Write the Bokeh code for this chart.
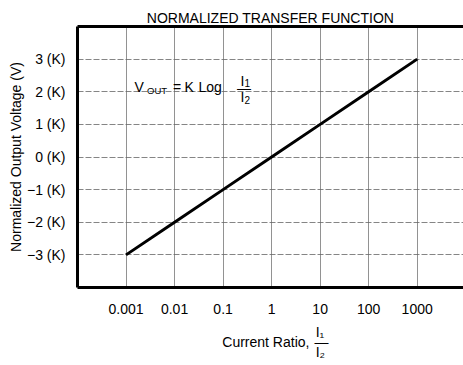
import math
from bokeh.plotting import figure
from bokeh.models import (Range1d, FixedTicker, CustomJSTickFormatter, Label,
                          LinearAxis, Title)
from bokeh.embed import file_html
from bokeh.resources import INLINE

# ---- data ----
current_ratio = [0.001, 0.01, 0.1, 1, 10, 100, 1000]
vout_k = [-3, -2, -1, 0, 1, 2, 3]

x_ticks = [0.001, 0.01, 0.1, 1, 10, 100, 1000]
x_tick_labels = ["0.001", "0.01", "0.1", "1", "10", "100", "1000"]
y_ticks = [-3, -2, -1, 0, 1, 2, 3]
y_tick_labels = ["\u22123 (K)", "\u22122 (K)", "\u22121 (K)", "0 (K)",
                 "1 (K)", "2 (K)", "3 (K)"]

title_text = "NORMALIZED TRANSFER FUNCTION"
y_label_text = "Normalized Output Voltage (V)"
x_label_lines = ["\u2003" * 6 + "\u2002\u200a\u200aI\u2081",
                 "Current Ratio, \u200a\u2014",
                 "\u2003" * 6 + "\u2002\u200a\u200aI\u2082"]

FONT = "Liberation Sans"

# ---- layout ----
W, H = 463, 365
ML, MR, MT, MB = 77, 0, 26, 78
FRAME_LEFT = ML
FRAME_BOTTOM = H - MB
LABEL_DY = -7  # baseline correction for in-frame labels

p = figure(width=W, height=H, x_axis_type="log",
           x_range=Range1d(1e-4, 9000), y_range=Range1d(-4, 4),
           min_border_left=ML, min_border_right=MR,
           min_border_top=MT, min_border_bottom=MB,
           output_backend="svg", toolbar_location=None,
           title=title_text)
p.outline_line_color = None
p.background_fill_color = "white"
p.border_fill_color = "white"

p.title.align = "center"
p.title.text_font = FONT
p.title.text_font_size = "14px"
p.title.text_font_style = "normal"
p.title.text_color = "black"
p.title.text_line_height = 1.0
p.title.standoff = 2

xa = p.below[0]
xa.ticker = FixedTicker(ticks=x_ticks)
xa.formatter = CustomJSTickFormatter(
    args=dict(tvals=x_ticks, tlabels=x_tick_labels),
    code="""
    for (let i = 0; i < tvals.length; i++) {
        if (Math.abs(Math.log10(tvals[i]) - Math.log10(tick)) < 1e-6) return tlabels[i];
    }
    return "";
    """)
ya = p.left[0]
ya.ticker = FixedTicker(ticks=y_ticks)
ya.formatter = CustomJSTickFormatter(
    args=dict(tvals=y_ticks, tlabels=y_tick_labels),
    code="""
    for (let i = 0; i < tvals.length; i++) {
        if (Math.abs(tvals[i] - tick) < 1e-6) return tlabels[i];
    }
    return "";
    """)

for ax in (xa, ya):
    ax.axis_line_width = 3
    ax.axis_line_color = "black"
    ax.major_tick_line_color = None
    ax.minor_tick_line_color = None
    ax.major_tick_out = 0
    ax.major_tick_in = 0
    ax.minor_tick_out = 0
    ax.major_label_text_font = FONT
    ax.major_label_text_font_size = "14px"
    ax.major_label_text_color = "black"
xa.major_label_standoff = 16
ya.major_label_standoff = 12

ya.axis_label = y_label_text
ya.axis_label_text_font = FONT
ya.axis_label_text_font_size = "14px"
ya.axis_label_text_font_style = "normal"
ya.axis_label_text_color = "black"
ya.axis_label_standoff = 0

top_axis = LinearAxis(ticker=FixedTicker(ticks=[]), axis_line_width=3,
                      axis_line_color="black", major_tick_line_color=None,
                      minor_tick_line_color=None, major_label_standoff=0,
                      major_tick_out=0, major_tick_in=0, minor_tick_out=0,
                      axis_label_standoff=0)
p.add_layout(top_axis, "above")

xlab = Title(text="\n".join(x_label_lines), align="right", offset=135,
             standoff=11, text_font=FONT, text_font_size="14px",
             text_font_style="normal", text_color="black",
             text_line_height=0.62)
p.add_layout(xlab, "below")

p.xgrid.grid_line_color = "#777777"
p.xgrid.grid_line_width = 1
p.xgrid.grid_line_alpha = 0.8
p.ygrid.grid_line_color = "#666666"
p.ygrid.grid_line_width = 1
p.ygrid.grid_line_dash = "6 2"
p.ygrid.grid_line_alpha = 0.8

p.line(current_ratio, vout_k, line_width=3, line_color="black")


def put(text, px, py, size, align="left", baseline="alphabetic"):
    p.add_layout(Label(x=px - FRAME_LEFT, y=FRAME_BOTTOM - (py + LABEL_DY),
                       x_units="screen", y_units="screen", text=text,
                       text_font=FONT, text_font_size=f"{size}px",
                       text_align=align, text_baseline=baseline,
                       text_color="black"))


# equation inside the frame
put("V", 134, 93, 14)
put("OUT", 146.5, 96.5, 9.5)
put("=", 172.5, 93, 14)
put("K", 184, 93, 14)
put("Log", 198, 93, 14)
put("I", 240, 87, 14)
put("1", 244, 89.5, 10)
put("\u2014", 243.5, 94.5, 14, align="center")
put("I", 240, 103.5, 14)
put("2", 244, 106, 10)

open("out.html", "w").write(file_html(p, INLINE))
